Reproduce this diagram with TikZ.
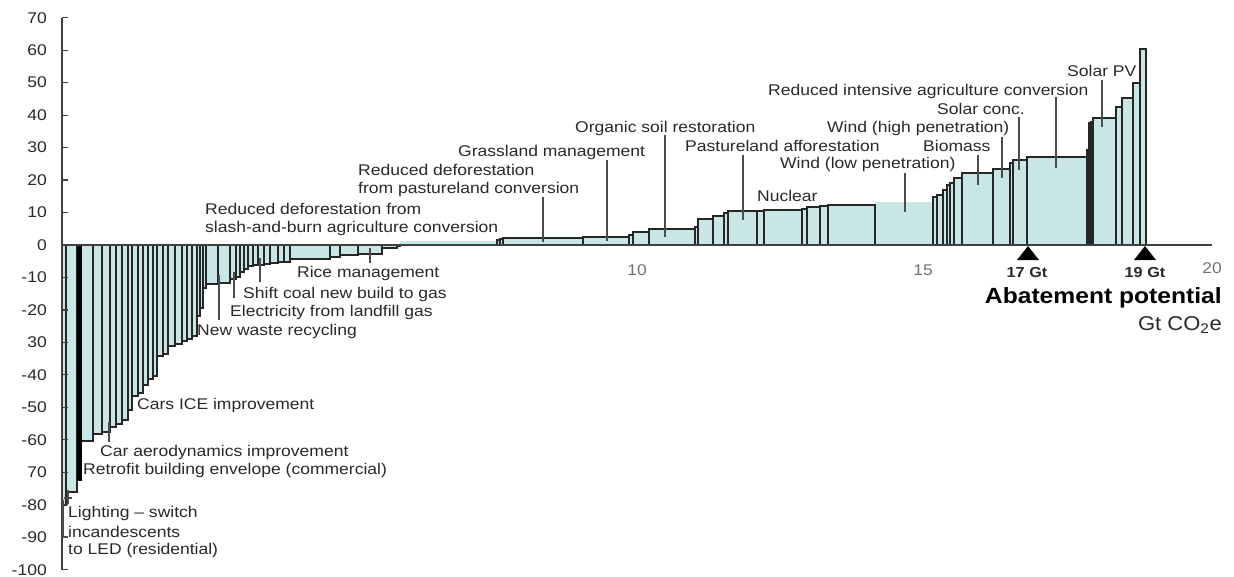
\documentclass[tikz,border=0pt]{standalone}
\usepackage{fontspec}
\setmainfont{Liberation Sans}
\definecolor{barfill}{RGB}{200,230,230}
\definecolor{txt}{RGB}{40,40,45}
\definecolor{axlab}{RGB}{110,115,120}
\newcommand\lf{\fontsize{15.5}{18}\selectfont}
\newcommand\sx[1]{\scalebox{1.13}[1]{#1}}
\begin{document}
\begin{tikzpicture}[x=1pt,y=-1pt,
  bar/.style={fill=barfill,draw=black!85,line width=1.1pt},
  lightbar/.style={fill=barfill},
  leader/.style={draw=black!70,line width=1.3pt},
  lab/.style={font=\lf,text=txt,anchor=west,inner sep=0pt},
  ylab/.style={font=\lf,text=txt,anchor=east,inner sep=0pt},
  xlab/.style={font=\lf,text=axlab,inner sep=0pt},
  gt/.style={font=\fontsize{14.5}{17}\selectfont\bfseries,text=txt,inner sep=0pt},
  axis/.style={draw=black!75,line width=1.2pt}]
\useasboundingbox (0,0) rectangle (1234,576);
% light bars without outline top
\fill[lightbar] (400,245) rectangle (497,241);
\fill[lightbar] (875,245) rectangle (933,202);
% bars
\foreach \a/\b/\c in {62/66/505,66/77/492,81/93/441,93/102/434,102/110/432,110/116/427,116/122/424,122/128/420,128/132/410,132/138/396,138/143/393,143/148/385,148/153/379,153/157/376,157/163/356,163/168/354,168/175/346,175/182/344,182/187/341,187/192/339,192/197/336,197/200/316,200/203/308,203/206/288,206/218/284,218/230/283,230/236/279,236/240/277,240/244/272,244/248/269,248/253/266,253/258/265,258/264/265,264/270/264,270/278/263,278/284/262,284/290/262,290/330/259,330/340/257,340/358/255,358/382/254,382/397/248,397/400/246,
497/500/240,500/503/239,503/583/238,583/629/237,629/633/235,633/649/232,649/695/229,695/698/227,698/713/219,713/724/216,724/728/213,728/757/211,757/764/211,764/802/210,802/807/209,807/820/207,820/828/206,828/875/205,933/937/197,937/943/195,943/947/190,947/950/185,950/954/183,954/962/178,962/993/173,993/1010/169,1010/1013/163,1013/1027/160,1027/1087/157,1087/1089/150,1089/1091/123,1091/1093/122,1093/1116/118,1116/1122/107,1122/1133/98,1133/1140/83,1140/1146/49}
  {\filldraw[bar] (\a,245) rectangle (\b,\c);}
\filldraw[fill=black,draw=black,line width=1pt] (77,245) rectangle (81,480);
\draw[black!85,line width=1.1pt] (875,245) -- (875,205) (933,245) -- (933,197);
% axes
\draw[axis] (62,245) -- (1212,245);
\draw[axis] (62,18) -- (62,570);
\foreach \v/\t in {70/70,60/60,50/50,40/40,30/30,20/20,10/10,0/0,-10/-10,-20/-20,-30/30,-40/-40,-50/-50,-60/-60,-70/70,-80/-80,-90/-90,-100/-100}{
  \draw[axis] (62,{245-\v*3.247}) -- (68,{245-\v*3.247});
  \node[ylab] (y\v) at (47,{245-\v*3.247}) {\sx{\t}};
}
\node[xlab] (x10) at (637,270) {\sx{10}};
\node[xlab] (x15) at (923,270) {\sx{15}};
\node[xlab] (x20) at (1212,268) {\sx{20}};
% markers
\fill[black] (1017,260) -- (1039,260) -- (1028,246) -- cycle;
\fill[black] (1134,260) -- (1156,260) -- (1145,246) -- cycle;
\node[gt] (g17) at (1027,273) {\scalebox{1.12}[1]{17 Gt}};
\node[gt] (g19) at (1145,273) {\scalebox{1.12}[1]{19 Gt}};
\node[font=\fontsize{22}{26}\selectfont\bfseries,text=black,anchor=east,inner sep=0pt] (abat) at (1222,298) {\scalebox{1.12}[1]{Abatement potential}};
\node[font=\fontsize{20}{24}\selectfont,text=txt,anchor=east,inner sep=0pt] (unit) at (1222,325) {\scalebox{1.1}[1]{Gt CO\textsubscript{2}e}};
% labels
\node[lab] (l1a) at (205,209) {\sx{Reduced deforestation from}};
\node[lab] (l1b) at (205,228) {\sx{slash-and-burn agriculture conversion}};
\node[lab] (l2a) at (358,170) {\sx{Reduced deforestation}};
\node[lab] (l2b) at (358,189) {\sx{from pastureland conversion}};
\node[lab] (l3) at (458,152) {\sx{Grassland management}};
\node[lab] (l4) at (575,128) {\sx{Organic soil restoration}};
\node[lab] (l5) at (685,146) {\sx{Pastureland afforestation}};
\node[lab] (l6) at (780,164) {\sx{Wind (low penetration)}};
\node[lab] (l7) at (757,196) {\sx{Nuclear}};
\node[lab] (l8) at (827,128) {\sx{Wind (high penetration)}};
\node[lab] (l9) at (923,146) {\sx{Biomass}};
\node[lab] (l10) at (937,109) {\sx{Solar conc.}};
\node[lab] (l11) at (768,91) {\sx{Reduced intensive agriculture conversion}};
\node[lab] (l12) at (1067,71) {\sx{Solar PV}};
\node[lab] (n1) at (297,273) {\sx{Rice management}};
\node[lab] (n2) at (243,294) {\sx{Shift coal new build to gas}};
\node[lab] (n3) at (230,312) {\sx{Electricity from landfill gas}};
\node[lab] (n4) at (197,331) {\sx{New waste recycling}};
\node[lab] (n5) at (137,405) {\sx{Cars ICE improvement}};
\node[lab] (n6) at (100,452) {\sx{Car aerodynamics improvement}};
\node[lab] (n7) at (83,470) {\sx{Retrofit building envelope (commercial)}};
\node[lab] (n8a) at (68,513) {\sx{Lighting -- switch}};
\node[lab] (n8b) at (68,532) {\sx{incandescents}};
\node[lab] (n8c) at (68,550) {\sx{to LED (residential)}};
% leaders
\draw[leader] (543,197) -- (543,242);
\draw[leader] (607,160) -- (607,241);
\draw[leader] (665,135) -- (665,237);
\draw[leader] (743,155) -- (743,220);
\draw[leader] (905,173) -- (905,212);
\draw[leader] (978,155) -- (978,185);
\draw[leader] (1002,137) -- (1002,178);
\draw[leader] (1019,117) -- (1019,170);
\draw[leader] (1056,97) -- (1056,168);
\draw[leader] (1102,80) -- (1102,127);
\draw[leader] (370,248) -- (370,263);
\draw[leader] (260,258) -- (260,282);
\draw[leader] (234,272) -- (234,298);
\draw[leader] (219,275) -- (219,320);
\draw[leader] (109,422) -- (109,442);
\draw[leader] (68,490) -- (68,504) (64,498) -- (72,498);
\draw[leader] (63,500) -- (63,537) -- (68,537);
\end{tikzpicture}
\end{document}
